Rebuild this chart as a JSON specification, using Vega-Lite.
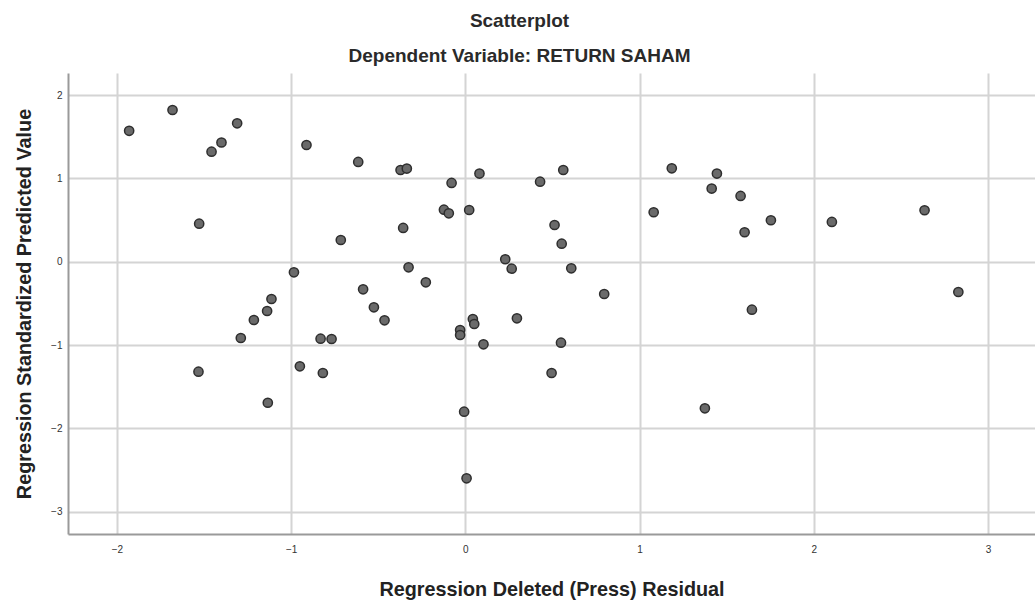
{
  "$schema": "https://vega.github.io/schema/vega-lite/v6.json",
  "autosize": {"type": "none"},
  "padding": {"left": 68, "top": 73, "right": 0, "bottom": 69},
  "width": 967,
  "height": 461,
  "background": "white",
  "title": {
    "text": "Scatterplot",
    "subtitle": "Dependent Variable: RETURN SAHAM",
    "anchor": "middle",
    "dx": -32,
    "font": "Liberation Sans",
    "fontSize": 19,
    "fontWeight": "bold",
    "color": "#2a2a2a",
    "subtitleFont": "Liberation Sans",
    "subtitleFontSize": 19,
    "subtitleFontWeight": "bold",
    "subtitleColor": "#2a2a2a",
    "subtitlePadding": 16,
    "offset": 7
  },
  "config": {
    "view": {"stroke": null},
    "axis": {
      "labelFont": "Liberation Sans",
      "labelFontSize": 10,
      "labelColor": "#333333",
      "titleFont": "Liberation Sans",
      "titleFontSize": 19.8,
      "titleFontWeight": "bold",
      "titleColor": "#222222",
      "gridColor": "#d4d4d4",
      "gridWidth": 2,
      "domainColor": "#9a9a9a",
      "domainWidth": 2,
      "ticks": false
    }
  },
  "data": {
    "values": [
      {"residual": -1.93, "predicted": 1.57},
      {"residual": -1.681, "predicted": 1.82},
      {"residual": -1.31, "predicted": 1.66},
      {"residual": -1.40, "predicted": 1.43},
      {"residual": -1.457, "predicted": 1.32},
      {"residual": -1.528, "predicted": 0.456},
      {"residual": -0.912, "predicted": 1.40},
      {"residual": -0.615, "predicted": 1.197},
      {"residual": -0.372, "predicted": 1.10},
      {"residual": -0.336, "predicted": 1.117},
      {"residual": 0.081, "predicted": 1.057},
      {"residual": -0.079, "predicted": 0.945},
      {"residual": -0.123, "predicted": 0.624},
      {"residual": -0.095, "predicted": 0.58},
      {"residual": 0.022, "predicted": 0.62},
      {"residual": -0.357, "predicted": 0.405},
      {"residual": -0.715, "predicted": 0.26},
      {"residual": -0.984, "predicted": -0.128},
      {"residual": -0.326, "predicted": -0.068},
      {"residual": -0.227, "predicted": -0.248},
      {"residual": -0.587, "predicted": -0.332},
      {"residual": -1.113, "predicted": -0.448},
      {"residual": -1.138, "predicted": -0.592},
      {"residual": -1.214, "predicted": -0.70},
      {"residual": -1.289, "predicted": -0.916},
      {"residual": -0.525, "predicted": -0.548},
      {"residual": -0.464, "predicted": -0.704},
      {"residual": -0.831, "predicted": -0.924},
      {"residual": -0.768, "predicted": -0.928},
      {"residual": 0.043, "predicted": -0.688},
      {"residual": 0.051, "predicted": -0.748},
      {"residual": -0.030, "predicted": -0.82},
      {"residual": -0.030, "predicted": -0.88},
      {"residual": 0.104, "predicted": -0.992},
      {"residual": -1.532, "predicted": -1.32},
      {"residual": -0.950, "predicted": -1.256},
      {"residual": -0.818, "predicted": -1.336},
      {"residual": -1.134, "predicted": -1.693},
      {"residual": -0.007, "predicted": -1.80},
      {"residual": 0.007, "predicted": -2.60},
      {"residual": 0.429, "predicted": 0.96},
      {"residual": 0.562, "predicted": 1.10},
      {"residual": 0.512, "predicted": 0.44},
      {"residual": 0.553, "predicted": 0.216},
      {"residual": 0.229, "predicted": 0.029},
      {"residual": 0.266, "predicted": -0.084},
      {"residual": 0.608, "predicted": -0.08},
      {"residual": 0.797, "predicted": -0.388},
      {"residual": 0.296, "predicted": -0.68},
      {"residual": 1.185, "predicted": 1.12},
      {"residual": 1.444, "predicted": 1.057},
      {"residual": 1.414, "predicted": 0.877},
      {"residual": 1.580, "predicted": 0.789},
      {"residual": 1.081, "predicted": 0.593},
      {"residual": 1.754, "predicted": 0.497},
      {"residual": 1.603, "predicted": 0.353},
      {"residual": 2.104, "predicted": 0.477},
      {"residual": 2.636, "predicted": 0.617},
      {"residual": 2.830, "predicted": -0.364},
      {"residual": 1.645, "predicted": -0.576},
      {"residual": 0.549, "predicted": -0.972},
      {"residual": 0.495, "predicted": -1.336},
      {"residual": 1.375, "predicted": -1.76}
    ]
  },
  "mark": {
    "type": "point",
    "shape": "circle",
    "filled": true,
    "size": 85,
    "fill": "#6a6a6a",
    "stroke": "#2e2e2e",
    "strokeWidth": 1.5,
    "opacity": 1
  },
  "encoding": {
    "x": {
      "field": "residual",
      "type": "quantitative",
      "scale": {"domain": [-2.281, 3.27], "nice": false, "zero": false},
      "axis": {
        "title": "Regression Deleted (Press) Residual",
        "values": [-2, -1, 0, 1, 2, 3],
        "format": "d",
        "labelPadding": 10,
        "titlePadding": 25
      }
    },
    "y": {
      "field": "predicted",
      "type": "quantitative",
      "scale": {"domain": [-3.268, 2.264], "nice": false, "zero": false},
      "axis": {
        "title": "Regression Standardized Predicted Value",
        "values": [-3, -2, -1, 0, 1, 2],
        "format": "d",
        "labelPadding": 6,
        "titlePadding": 16
      }
    }
  }
}
